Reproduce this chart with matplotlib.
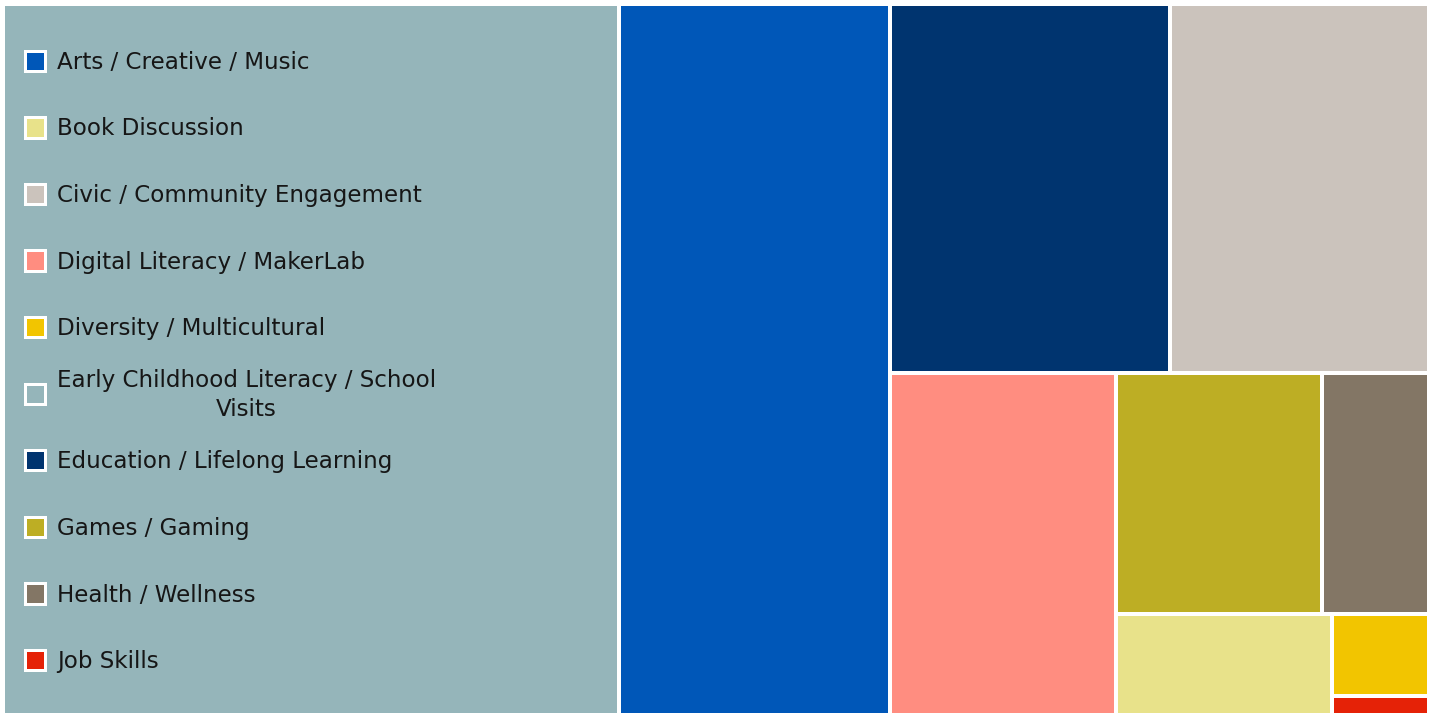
import textwrap
import matplotlib.pyplot as plt
from matplotlib.patches import Rectangle

# ------------------------------------------------------------
# DATA (program counts per category)
# ------------------------------------------------------------
categories = [
    "Early Childhood Literacy / School Visits",
    "Arts / Creative / Music",
    "Education / Lifelong Learning",
    "Civic / Community Engagement",
    "Digital Literacy / MakerLab",
    "Games / Gaming",
    "Health / Wellness",
    "Book Discussion",
    "Diversity / Multicultural",
    "Job Skills",
]
values = [232.6, 102.1, 54.9, 50.6, 41.1, 26.4, 13.7, 11.5, 4.2, 1.0]
colors = [
    "#95B5BA", "#0057B8", "#00346F", "#CBC3BC", "#FF8D80",
    "#BDAE24", "#837665", "#E8E28A", "#F2C500", "#E52207",
]
# number of tiles placed in each successive strip of the layout
strips = [1, 1, 2, 1, 2, 1, 1, 1]

# ------------------------------------------------------------
# FIGURE / LAYOUT SETTINGS
# ------------------------------------------------------------
W, H = 1439, 715
FRAME = (2.5, 4.0, 1429.0, 715.0)   # x0, y0, x1, y1 of the treemap area
GAP_PX = 4
FONT = ["DejaVu Sans"]
FS = 16.6


def strip_layout(vals, groups, x0, y0, x1, y1):
    """Lay tiles out strip by strip, each strip along the shorter side."""
    rects = []
    total = float(sum(vals))
    i = 0
    for n in groups:
        chunk = vals[i:i + n]
        s = float(sum(chunk))
        w, h = x1 - x0, y1 - y0
        if w > h:
            # vertical strip on the left
            sw = w * s / total
            y = y0
            for v in chunk:
                ch = h * v / s
                rects.append((x0, y, sw, ch))
                y += ch
            x0 += sw
        else:
            # horizontal strip on top
            sh = h * s / total
            x = x0
            for v in chunk:
                cw = w * v / s
                rects.append((x, y0, cw, sh))
                x += cw
            y0 += sh
        total -= s
        i += n
    return rects


fig = plt.figure(figsize=(W / 100, H / 100), dpi=100)
ax = fig.add_axes([0, 0, 1, 1])
ax.set_xlim(0, W)
ax.set_ylim(H, 0)
ax.axis("off")

lw = GAP_PX * 72 / 100
for (x, y, w, h), c in zip(strip_layout(values, strips, *FRAME), colors):
    ax.add_patch(Rectangle((x, y), w, h, facecolor=c, edgecolor="white",
                           linewidth=lw))

# legend, alphabetical, drawn over the biggest tile
color_of = dict(zip(categories, colors))
LEG_X, LEG_Y, LEG_STEP = 35.0, 60.7, 66.6
BOX = 20.4
for k, name in enumerate(sorted(categories)):
    yc = LEG_Y + k * LEG_STEP
    ax.add_patch(Rectangle((LEG_X - BOX / 2, yc - BOX / 2), BOX, BOX,
                           facecolor=color_of[name], edgecolor="white",
                           linewidth=3 * 72 / 100))
    ax.text(57, yc + 1.5, textwrap.fill(name, 34), ha="left", va="center",
            multialignment="center", fontsize=FS, color="#161616",
            family=FONT, linespacing=1.3)

fig.savefig("out.png", dpi=100)
